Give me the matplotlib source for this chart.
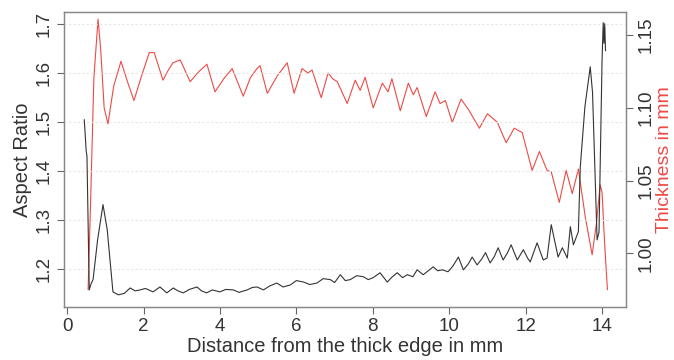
import matplotlib
matplotlib.use('Agg')
import matplotlib.pyplot as plt

plt.rcParams['font.family'] = ['Liberation Sans', 'DejaVu Sans']

# aspect ratio (black, left axis)
x_aspect = [0.45, 0.50, 0.52, 0.58, 0.63, 0.68, 0.80, 0.94, 1.05, 1.20, 1.34, 1.50,
            1.65, 1.78, 1.91, 2.05, 2.25, 2.43, 2.61, 2.78, 2.90, 3.04, 3.20, 3.40,
            3.52, 3.65, 3.80, 4.00, 4.15, 4.35, 4.50, 4.71, 4.85, 4.97, 5.14, 5.30,
            5.49, 5.65, 5.84, 6.00, 6.19, 6.35, 6.54, 6.70, 6.89, 7.00, 7.15, 7.28,
            7.41, 7.58, 7.75, 7.88, 8.01, 8.19, 8.38, 8.50, 8.64, 8.78, 8.90, 9.05,
            9.16, 9.32, 9.45, 9.58, 9.70, 9.82, 9.97, 10.10, 10.24, 10.37, 10.50,
            10.60, 10.73, 10.85, 10.95, 11.07, 11.18, 11.28, 11.41, 11.52, 11.62,
            11.78, 11.94, 12.05, 12.12, 12.30, 12.46, 12.56, 12.67, 12.85, 12.96,
            13.09, 13.17, 13.25, 13.38, 13.43, 13.55, 13.69, 13.75, 13.87, 13.92,
            14.00, 14.03, 14.05, 14.07, 14.09]
aspect = [1.504, 1.44, 1.43, 1.157, 1.17, 1.178, 1.26, 1.331, 1.28, 1.153, 1.147, 1.150,
          1.161, 1.155, 1.157, 1.160, 1.153, 1.163, 1.151, 1.161, 1.155, 1.151, 1.158, 1.163,
          1.155, 1.151, 1.157, 1.153, 1.158, 1.157, 1.152, 1.157, 1.162, 1.163, 1.157, 1.165,
          1.171, 1.163, 1.167, 1.176, 1.173, 1.168, 1.171, 1.180, 1.178, 1.172, 1.188, 1.176,
          1.178, 1.186, 1.184, 1.178, 1.182, 1.192, 1.173, 1.183, 1.192, 1.182, 1.188, 1.184,
          1.198, 1.188, 1.196, 1.204, 1.196, 1.198, 1.194, 1.206, 1.224, 1.198, 1.210,
          1.224, 1.208, 1.220, 1.233, 1.212, 1.225, 1.243, 1.218, 1.232, 1.249,
          1.218, 1.239, 1.222, 1.214, 1.253, 1.218, 1.222, 1.290, 1.224, 1.243,
          1.222, 1.286, 1.249, 1.276, 1.408, 1.53, 1.612, 1.56, 1.259, 1.275,
          1.627, 1.702, 1.66, 1.70, 1.645]

# thickness in mm (red, right axis)
x_thick = [0.55, 0.62, 0.70, 0.81, 0.88, 0.97, 1.07, 1.22, 1.41, 1.58, 1.75, 1.95, 2.15,
           2.28, 2.51, 2.65, 2.77, 2.96, 3.22, 3.45, 3.66, 3.87, 4.10, 4.32, 4.61, 4.80,
           4.97, 5.05, 5.24, 5.50, 5.76, 5.94, 6.15, 6.30, 6.41, 6.65, 6.83, 6.95, 7.07,
           7.33, 7.54, 7.67, 7.80, 8.01, 8.25, 8.40, 8.50, 8.72, 8.93, 9.06, 9.16, 9.40,
           9.63, 9.76, 9.90, 10.08, 10.31, 10.50, 10.79, 11.00, 11.26, 11.49, 11.70,
           11.91, 12.17, 12.36, 12.56, 12.67, 12.88, 13.06, 13.22, 13.38, 13.56, 13.74,
           13.85, 13.95, 14.00, 14.06, 14.14]
thick = [0.975, 1.04, 1.12, 1.161, 1.14, 1.10, 1.089, 1.115, 1.132, 1.118, 1.105, 1.122, 1.138,
         1.138, 1.119, 1.126, 1.131, 1.133, 1.118, 1.125, 1.130, 1.111, 1.120, 1.127, 1.108, 1.121,
         1.127, 1.129, 1.110, 1.122, 1.131, 1.110, 1.127, 1.124, 1.126, 1.107, 1.124, 1.120, 1.118,
         1.103, 1.119, 1.112, 1.121, 1.100, 1.117, 1.111, 1.120, 1.098, 1.117, 1.109, 1.114, 1.094,
         1.111, 1.103, 1.105, 1.090, 1.106, 1.099, 1.086, 1.096, 1.090, 1.076, 1.086,
         1.083, 1.057, 1.070, 1.057, 1.056, 1.035, 1.057, 1.041, 1.058, 1.025, 0.999,
         1.02, 1.047, 1.042, 1.01, 0.975]

x_ticks = [0, 2, 4, 6, 8, 10, 12, 14]
aspect_ticks = [1.2, 1.3, 1.4, 1.5, 1.6, 1.7]
thick_ticks = [1.00, 1.05, 1.10, 1.15]


def main():
    fig = plt.figure(figsize=(6.74, 3.6), dpi=100)
    ax = fig.add_axes([0.095, 0.147, 0.834, 0.82])
    ax2 = ax.twinx()

    ax.plot(x_aspect, aspect, color='#333333', lw=0.8, zorder=3)
    ax2.plot(x_thick, thick, color='#ec4a46', lw=0.8)

    ax.set_xlim(-0.08, 14.63)
    ax.set_ylim(1.122, 1.724)
    ax2.set_ylim(0.963, 1.166)

    for t in aspect_ticks:
        ax.axhline(t, color='#e6e6e6', lw=0.8, ls=(0, (2, 2)), zorder=0)

    ax.set_xticks(x_ticks)
    ax.set_yticks(aspect_ticks)
    ax.set_yticklabels(['%.1f' % t for t in aspect_ticks], rotation=90, va='center')
    ax2.set_yticks(thick_ticks)
    ax2.set_yticklabels(['%.2f' % t for t in thick_ticks], rotation=90, va='center')

    for a in (ax, ax2):
        a.tick_params(labelsize=13.5, length=5, color='#666666', width=0.8,
                      labelcolor='#333333', pad=3)
        for s in a.spines.values():
            s.set_color('#888888')
            s.set_linewidth(0.9)

    ax.set_xlabel('Distance from the thick edge in mm', fontsize=14.5, labelpad=1,
                  color='#333333')
    ax.set_ylabel('Aspect Ratio', fontsize=14.5, labelpad=3, color='#333333')
    ax2.set_ylabel('Thickness in mm', fontsize=14, color='#ec4a46', labelpad=1)

    ax.set_zorder(ax2.get_zorder() + 1)
    ax.patch.set_visible(False)

    fig.savefig('out.png', dpi=100)


if __name__ == "__main__":
    main()
